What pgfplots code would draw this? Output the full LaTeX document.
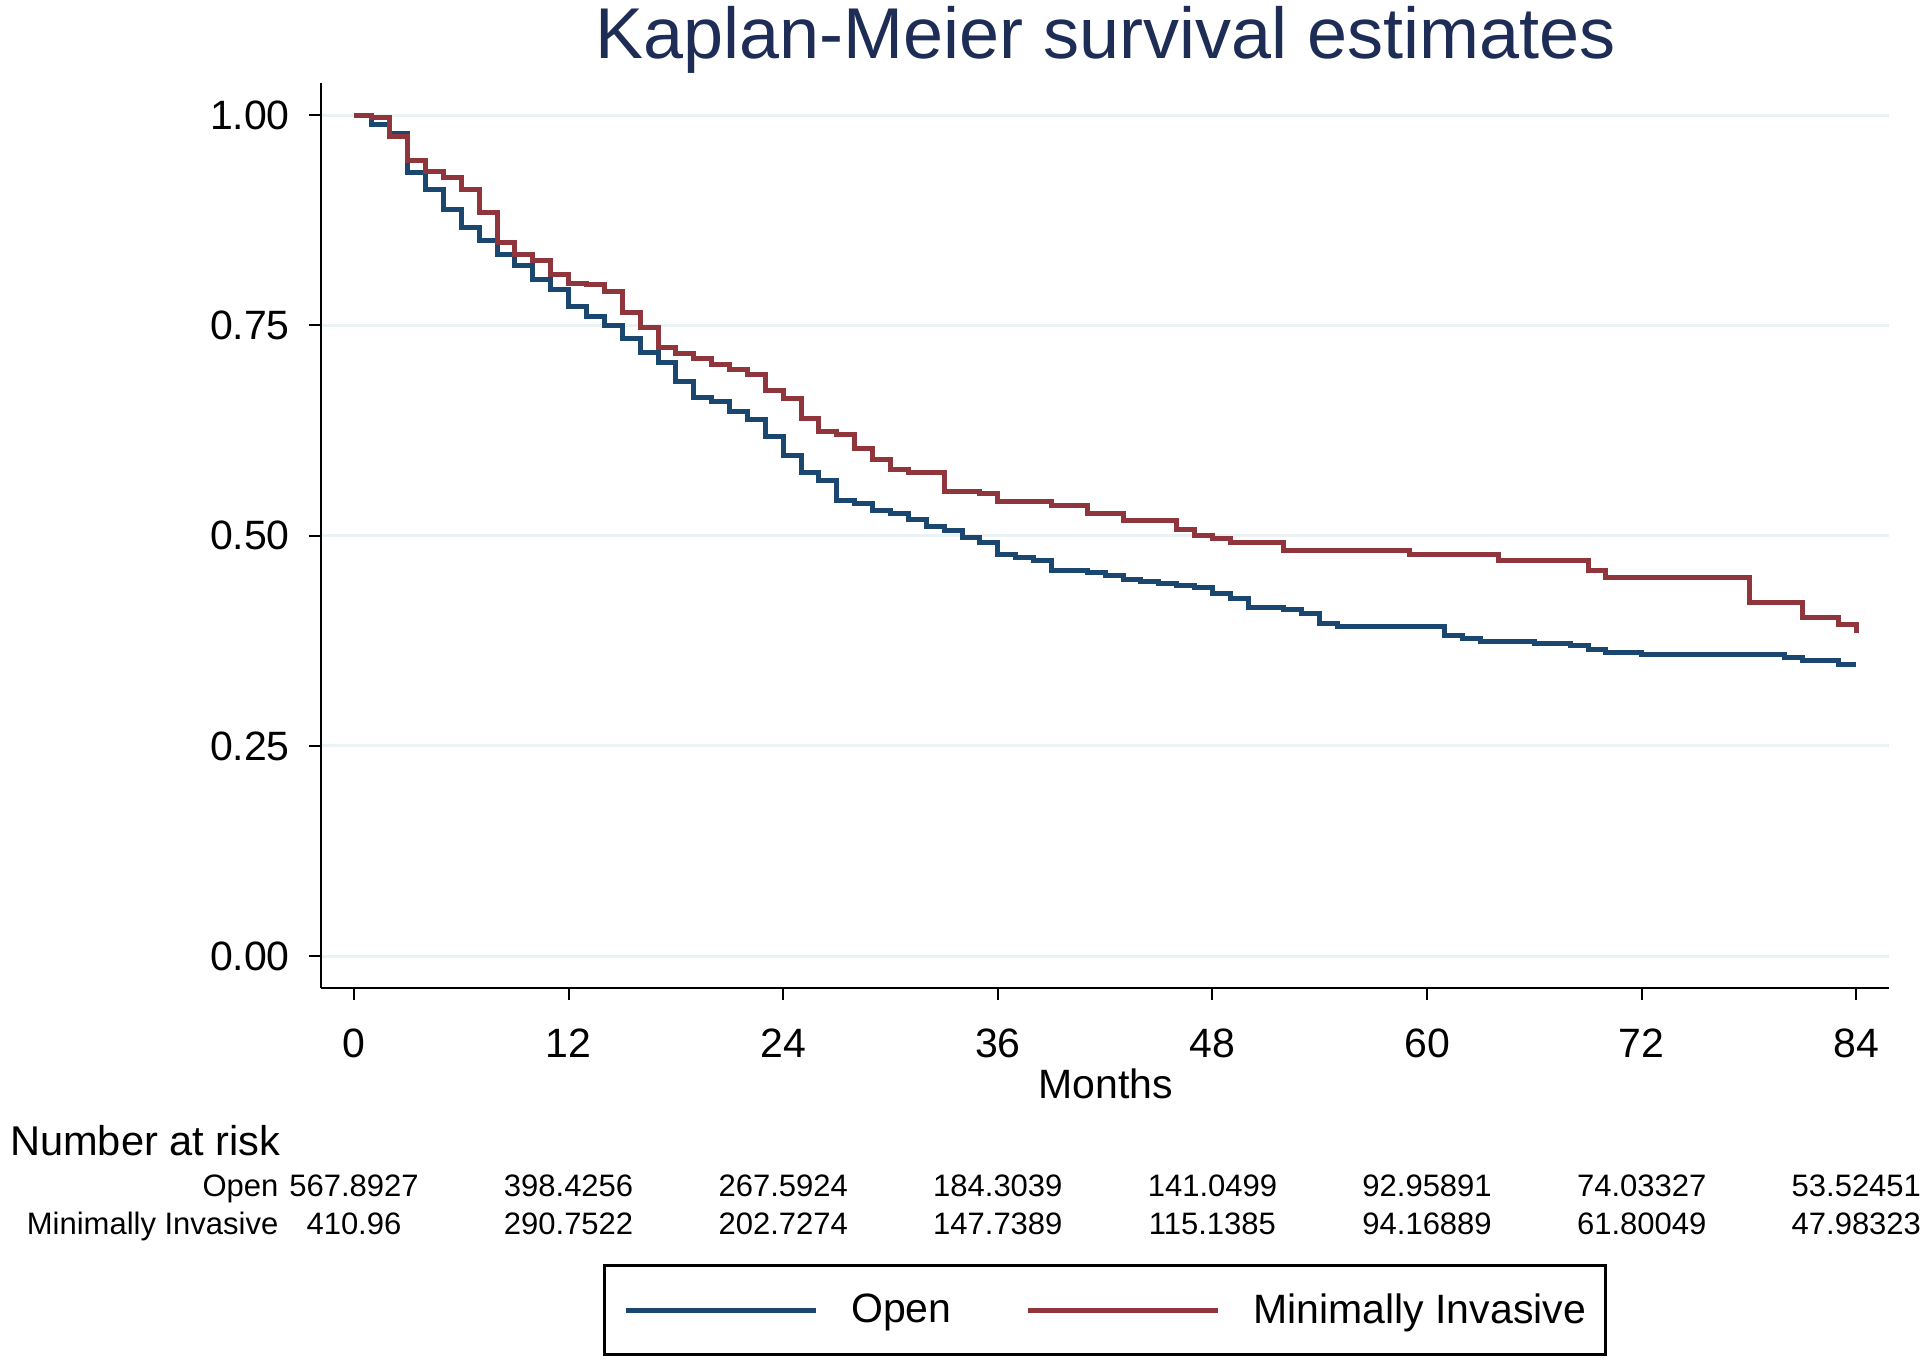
\documentclass[border=0pt]{standalone}
\usepackage{fontspec}
\setmainfont{Liberation Sans}
\usepackage{pgfplots}
\usepackage{pgfplotstable}
\pgfplotsset{compat=1.18}
\definecolor{kmblue}{RGB}{26,71,111}
\definecolor{kmred}{RGB}{144,53,59}
\definecolor{kmgrid}{RGB}{234,242,243}
\definecolor{kmtitle}{RGB}{30,45,85}

\pgfplotstableread{
m s
0 1.000
1 0.989
2 0.978
3 0.932
4 0.911
5 0.888
6 0.866
7 0.851
8 0.834
9 0.821
10 0.804
11 0.793
12 0.772
13 0.761
14 0.750
15 0.734
16 0.718
17 0.706
18 0.683
19 0.664
20 0.660
21 0.648
22 0.638
23 0.618
24 0.595
25 0.575
26 0.565
27 0.542
28 0.538
29 0.530
30 0.526
31 0.519
32 0.511
33 0.506
34 0.498
35 0.492
36 0.478
37 0.474
38 0.470
39 0.459
41 0.456
42 0.453
43 0.448
44 0.446
45 0.443
46 0.441
47 0.438
48 0.431
49 0.425
50 0.415
52 0.412
53 0.408
54 0.395
55 0.392
61 0.381
62 0.378
63 0.374
66 0.372
68 0.369
69 0.365
70 0.361
72 0.359
80 0.355
81 0.351
83 0.347
84 0.347
}\openT

\pgfplotstableread{
m s
0 1.000
1 0.997
2 0.975
3 0.946
4 0.933
5 0.926
6 0.911
7 0.884
8 0.848
9 0.834
10 0.827
11 0.811
12 0.800
13 0.798
14 0.790
15 0.765
16 0.748
17 0.724
18 0.716
19 0.710
20 0.703
21 0.697
22 0.692
23 0.672
24 0.663
25 0.639
26 0.624
27 0.620
28 0.603
29 0.591
30 0.579
31 0.575
33 0.552
35 0.550
36 0.541
39 0.536
41 0.526
43 0.518
46 0.507
47 0.500
48 0.496
49 0.492
52 0.482
59 0.477
64 0.470
69 0.459
70 0.450
78 0.421
81 0.403
83 0.394
84 0.384
}\miT

\begin{document}
\begin{tikzpicture}
\begin{axis}[
  scale only axis, width=784pt, height=452.5pt,
  xmin=-1.85, xmax=85.8, ymin=-0.0377, ymax=1.038,
  clip=false,
  axis x line*=bottom, axis y line*=left,
  axis line style={line width=1pt, -},
  xtick={0,12,...,84}, ytick={0,0.25,0.5,0.75,1},
  tick align=outside, major tick length=6pt,
  tick style={line width=1pt, black},
  ymajorgrids, grid style={kmgrid, line width=1.5pt},
  /pgf/number format/assume math mode=true,
  tick label style={font=\fontsize{20.5}{24}\selectfont},
  x tick label style={yshift=-11pt},
  y tick label style={xshift=-6pt, /pgf/number format/fixed, /pgf/number format/fixed zerofill, /pgf/number format/precision=2},
  legend columns=2,
  legend style={at={(axis description cs:0.5,-0.3560)}, anchor=center,
    draw=black, line width=1.5pt, inner xsep=9.5pt, inner ysep=14pt,
    font=\fontsize{20.5}{24}\selectfont,
    nodes={inner sep=0pt},
    /tikz/every odd column/.append style={column sep=16.5pt},
    /tikz/every even column/.append style={column sep=37pt}},
  legend image code/.code={\draw[#1] (0pt,0pt) -- (95pt,0pt);},
]
\addplot[const plot, kmblue, line width=2.5pt] table[x=m, y=s] {\openT};
\addlegendentry{Open}
\addplot[const plot, kmred, line width=2.5pt] table[x=m, y=s] {\miT};
\addlegendentry{Minimally Invasive}

\node[anchor=base, font=\fontsize{36}{40}\selectfont, text=kmtitle] at (axis cs:42.03,1.0669) {Kaplan-Meier survival estimates};
\node[anchor=base, font=\fontsize{20.5}{24}\selectfont] at (axis cs:42.03,-0.1689) {Months};
\node[anchor=base west, font=\fontsize{20.8}{24}\selectfont] at (axis cs:-19.62,-0.2374) {Number at risk};

\node[anchor=base east, font=\fontsize{15.5}{18}\selectfont] at (axis cs:-3.83,-0.2853) {Open};
\node[anchor=base east, font=\fontsize{15.5}{18}\selectfont] at (axis cs:-3.83,-0.3305) {Minimally Invasive};

\node[anchor=base, font=\fontsize{15.5}{18}\selectfont] at (axis cs:0,-0.2853) {567.8927};
\node[anchor=base, font=\fontsize{15.5}{18}\selectfont] at (axis cs:12,-0.2853) {398.4256};
\node[anchor=base, font=\fontsize{15.5}{18}\selectfont] at (axis cs:24,-0.2853) {267.5924};
\node[anchor=base, font=\fontsize{15.5}{18}\selectfont] at (axis cs:36,-0.2853) {184.3039};
\node[anchor=base, font=\fontsize{15.5}{18}\selectfont] at (axis cs:48,-0.2853) {141.0499};
\node[anchor=base, font=\fontsize{15.5}{18}\selectfont] at (axis cs:60,-0.2853) {92.95891};
\node[anchor=base, font=\fontsize{15.5}{18}\selectfont] at (axis cs:72,-0.2853) {74.03327};
\node[anchor=base, font=\fontsize{15.5}{18}\selectfont] at (axis cs:84,-0.2853) {53.52451};

\node[anchor=base, font=\fontsize{15.5}{18}\selectfont] at (axis cs:0,-0.3305) {410.96};
\node[anchor=base, font=\fontsize{15.5}{18}\selectfont] at (axis cs:12,-0.3305) {290.7522};
\node[anchor=base, font=\fontsize{15.5}{18}\selectfont] at (axis cs:24,-0.3305) {202.7274};
\node[anchor=base, font=\fontsize{15.5}{18}\selectfont] at (axis cs:36,-0.3305) {147.7389};
\node[anchor=base, font=\fontsize{15.5}{18}\selectfont] at (axis cs:48,-0.3305) {115.1385};
\node[anchor=base, font=\fontsize{15.5}{18}\selectfont] at (axis cs:60,-0.3305) {94.16889};
\node[anchor=base, font=\fontsize{15.5}{18}\selectfont] at (axis cs:72,-0.3305) {61.80049};
\node[anchor=base, font=\fontsize{15.5}{18}\selectfont] at (axis cs:84,-0.3305) {47.98323};

\coordinate (BL) at (axis cs:-19.79,-0.487);
\coordinate (TR) at (axis cs:87.56,1.1368);
\end{axis}
\pgfresetboundingbox
\path (BL) rectangle (TR);
\end{tikzpicture}
\end{document}
